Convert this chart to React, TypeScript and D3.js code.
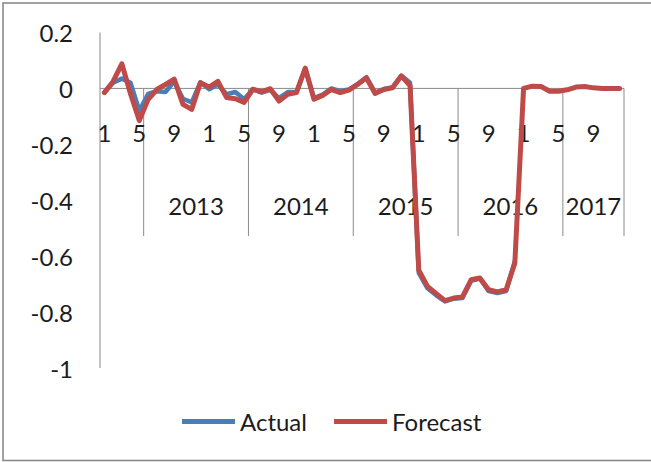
import React from "react";
import * as d3 from "d3";

// Monthly series, one value per category (null = no observation)
const actual: (number | null)[] = [
  -0.015, 0.02, 0.035, 0.02, -0.08, -0.02, -0.01, -0.013, 0.025, -0.037, -0.05, 0.022,
  -0.003, 0.014, -0.021, -0.013, -0.039, -0.003, -0.015, -0.005, -0.035, -0.013, -0.012, 0.07,
  -0.035, -0.022, 0.0, -0.01, -0.004, 0.016, 0.04, -0.015, -0.002, 0.004, 0.046, 0.02,
  -0.66, -0.715, -0.74, -0.762, -0.752, -0.75, -0.688, -0.68, -0.725, -0.732, -0.725, -0.618,
  null, null, null, null, null, null, null, null, null, null, null, null,
];

const forecast: number[] = [
  -0.015, 0.025, 0.088, -0.02, -0.115, -0.04, -0.004, 0.014, 0.033, -0.057, -0.075, 0.02,
  0.005, 0.025, -0.033, -0.037, -0.05, -0.003, -0.012, -0.001, -0.045, -0.021, -0.015, 0.073,
  -0.039, -0.025, -0.004, -0.015, -0.006, 0.014, 0.038, -0.018, -0.004, 0.002, 0.044, 0.01,
  -0.65, -0.708, -0.734, -0.759, -0.75, -0.746, -0.684, -0.678, -0.72, -0.728, -0.72, -0.625,
  0.0, 0.008, 0.007, -0.01, -0.01, -0.005, 0.005, 0.007, 0.002, 0.0, 0.0, 0.0,
];

// Inner category labels (month numbers)
const months: number[] = [
  1, 2, 3, 4, 5, 6, 7, 8, 9, 10, 11, 12,
  1, 2, 3, 4, 5, 6, 7, 8, 9, 10, 11, 12,
  1, 2, 3, 4, 5, 6, 7, 8, 9, 10, 11, 12,
  1, 2, 3, 4, 5, 6, 7, 8, 9, 10, 11, 12,
  1, 2, 3, 4, 5, 6, 7, 8, 9, 10, 11, 12,
];

// Outer category groups
const yearLabels: string[] = ["", "2013", "2014", "2015", "2016", "2017"];
const yearSizes: number[] = [5, 12, 12, 12, 12, 7];

const yTicks: number[] = [0.2, 0, -0.2, -0.4, -0.6, -0.8, -1];
const yTickLabels: string[] = ["0.2", "0", "-0.2", "-0.4", "-0.6", "-0.8", "-1"];

const seriesNames = ["Actual", "Forecast"];
const seriesColors = ["#4A7EBB", "#BE4B48"];

const W = 651;
const H = 462;
const FONT = "Lato, 'Open Sans', sans-serif";
const FS = 24;

export default function App() {
  const idx = d3.range(months.length);
  const x = d3.scaleBand<number>().domain(idx).range([100, 624]).padding(0);
  const cx = (i: number) => (x(i) as number) + x.bandwidth() / 2;
  const y = d3.scaleLinear().domain([-1, 0.2]).range([368, 32.5]);

  const line = d3
    .line<number | null>()
    .defined((d) => d !== null)
    .x((_, i) => cx(i))
    .y((d) => y(d as number));

  // group boundaries
  const bounds: number[] = [0];
  yearSizes.forEach((s) => bounds.push(bounds[bounds.length - 1] + s));
  const bx = (k: number) => (k < months.length ? (x(k) as number) : x.range()[1]);

  const axisColor = "#8a8a8a";
  const textColor = "#1c1c1c";

  return (
    <svg
      width={W}
      height={H}
      style={{ position: "absolute", left: 0, top: 0, display: "block", background: "#fff" }}
    >
      <rect x={0} y={0} width={W} height={H} fill="#fff" />
      {/* chart border */}
      <rect x={3} y={3} width={W + 10} height={457.5} fill="none" stroke={axisColor} strokeWidth={1.6} />

      {/* value axis */}
      <line x1={100} x2={100} y1={y(0.2)} y2={y(-1)} stroke={axisColor} strokeWidth={1} />
      {yTicks.map((t, k) => (
        <text
          key={k}
          x={73}
          y={y(t)}
          textAnchor="end"
          dominantBaseline="central"
          fontFamily={FONT}
          fontSize={FS}
          fill={textColor}
        >
          {yTickLabels[k]}
        </text>
      ))}

      {/* category axis at zero */}
      <line x1={100} x2={624} y1={y(0)} y2={y(0)} stroke={axisColor} strokeWidth={1} />
      {bounds.slice(1).map((b, k) => (
        <line key={k} x1={bx(b)} x2={bx(b)} y1={y(0)} y2={236} stroke={axisColor} strokeWidth={1} />
      ))}
      {idx
        .filter((i) => i % 4 === 0)
        .map((i) => (
          <text
            key={i}
            x={cx(i)}
            y={132.5}
            textAnchor="middle"
            dominantBaseline="central"
            fontFamily={FONT}
            fontSize={FS}
            fill={textColor}
          >
            {months[i]}
          </text>
        ))}
      {yearLabels.map((lab, k) => (
        <text
          key={k}
          x={(bx(bounds[k]) + bx(bounds[k + 1])) / 2}
          y={205}
          textAnchor="middle"
          dominantBaseline="central"
          fontFamily={FONT}
          fontSize={FS}
          fill={textColor}
        >
          {lab}
        </text>
      ))}

      {/* series */}
      <path
        d={line(actual) || ""}
        fill="none"
        stroke={seriesColors[0]}
        strokeWidth={4.5}
        strokeLinejoin="round"
        strokeLinecap="round"
      />
      <path
        d={line(forecast) || ""}
        fill="none"
        stroke={seriesColors[1]}
        strokeWidth={5}
        strokeLinejoin="round"
        strokeLinecap="round"
      />

      {/* legend */}
      {seriesNames.map((name, k) => {
        const lx = k === 0 ? 182 : 334;
        return (
          <g key={name}>
            <line x1={lx} x2={lx + 53} y1={421.5} y2={421.5} stroke={seriesColors[k]} strokeWidth={5} />
            <text
              x={lx + 58}
              y={421}
              dominantBaseline="central"
              fontFamily={FONT}
              fontSize={FS}
              fill={textColor}
            >
              {name}
            </text>
          </g>
        );
      })}
    </svg>
  );
}
